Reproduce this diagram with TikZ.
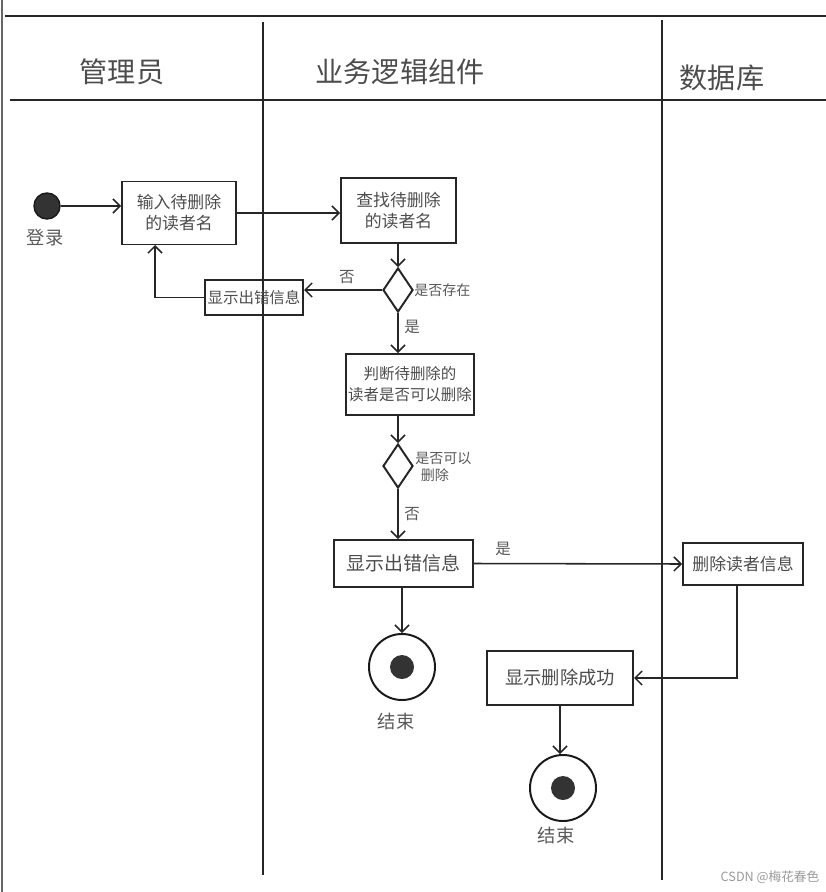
\documentclass[tikz,border=0pt]{standalone}
\usepackage{fontspec}
\setmainfont{Liberation Sans}
\newfontfamily\cjk{Noto Sans CJK SC}
\usetikzlibrary{shapes.geometric,arrows.meta}
\begin{document}
\begin{tikzpicture}[x=0.025cm,y=-0.025cm,
  lane/.style={line width=1.4pt, draw=black!85},
  act/.style={draw=black!85, line width=1.4pt, font=\cjk\fontsize{12}{15}\selectfont, text=black!70, align=center, inner sep=0pt, rectangle},
  dec/.style={diamond, draw=black!85, line width=1.4pt, minimum width=0.75cm, minimum height=1.1cm, inner sep=0pt},
  flow/.style={draw=black!85, line width=1.1pt, -{Straight Barb[length=5pt,width=10pt,line width=1.1pt]}},
  lbl/.style={font=\cjk\fontsize{11}{13}\selectfont, text=black!65, align=left, inner sep=0pt},
  small/.style={font=\cjk\fontsize{10}{12}\selectfont},
  big/.style={font=\cjk\fontsize{13}{15}\selectfont},
  head/.style={font=\cjk\fontsize{20}{24}\selectfont, text=black!70, inner sep=0pt},
  startnode/.style={circle, fill=black!80, draw=black!90, line width=1pt, minimum size=0.65cm, inner sep=0pt},
  endnode/.style={circle, draw=black!90, line width=1.4pt, minimum size=1.65cm, inner sep=0pt,
    path picture={\fill[black!80] (path picture bounding box.center) circle (0.3cm);}}
]
\useasboundingbox (0,0) rectangle (826,892);
% frame and lanes
\draw[draw=black!60, line width=0.8pt] (2,0) -- (2,892);
\draw[lane] (5,16) -- (826,16);
\draw[lane] (10,100) -- (826,100);
\draw[lane] (263,22) -- (263,875);
\draw[lane] (662,20) -- (662,880);
% headers
\node[head] (h1) at (122,72) {管理员};
\node[head] (h2) at (400,72) {业务逻辑组件};
\node[head] (h3) at (722,78) {数据库};
% nodes
\node[startnode] (start) at (47,206) {};
\node[lbl, big] (startl) at (45,238) {登录};
\node[act, minimum width=2.85cm, minimum height=1.575cm] (b1) at (179,213) {输入待删除\\的读者名};
\node[act, minimum width=2.875cm, minimum height=1.625cm] (b2) at (398.5,210.5) {查找待删除\\的读者名};
\node[dec] (d1) at (398,290) {};
\node[act, minimum width=2.45cm, minimum height=0.875cm, font=\cjk\fontsize{11}{13}\selectfont] (b3) at (254,297.5) {显示出错信息};
\node[act, minimum width=3.2cm, minimum height=1.525cm, font=\cjk\fontsize{11}{15}\selectfont] (b4) at (410,384.5) {判断待删除的\\读者是否可以删除};
\node[dec] (d2) at (398,466) {};
\node[act, minimum width=3.475cm, minimum height=1.175cm, font=\cjk\fontsize{13.5}{16}\selectfont] (b5) at (403.5,563.5) {显示出错信息};
\node[act, minimum width=3.0cm, minimum height=1.05cm] (b6) at (743,564) {删除读者信息};
\node[act, minimum width=3.65cm, minimum height=1.35cm, font=\cjk\fontsize{13}{15}\selectfont] (b7) at (560,678) {显示删除成功};
\node[endnode] (e1) at (402,667) {};
\node[endnode] (e2) at (563,788) {};
\node[lbl, big] (e1l) at (396,722) {结束};
\node[lbl, big] (e2l) at (556,836) {结束};
\coordinate (b1in) at (155,245);
\coordinate (b6out) at (737,585);
% edges
\draw[flow] (start) -- (start -| b1.west);
\draw[flow] (b1.east) -- (b1.east -| b2.west);
\draw[flow] (b2.south -| d1.north) -- (d1.north);
\draw[flow] (d1.west) -- (d1.west -| b3.east) node[lbl, pos=0.45, above=4pt] (n1) {否};
\node[lbl, small, anchor=west] (c1) at (414,290) {是否存在};
\draw[flow] (b3.west) -| (b1in);
\draw[flow] (d1.south) -- (d1.south |- b4.north) node[lbl, pos=0.35, right=4pt] (y1) {是};
\draw[flow] (b4.south -| d2.north) -- (d2.north);
\node[lbl, small, anchor=west] (c2) at (415,467) {是否可以\\\ \,删除};
\draw[flow] (d2.south) -- (d2.south |- b5.north) node[lbl, pos=0.5, right=4pt] (n2) {否};
\draw[flow] (b5.east) -- (b6.west) node[lbl, pos=0.14, above=5pt] (y2) {是};
\draw[flow] (b6out) |- (b7.east);
\draw[flow] (b5.south -| e1.north) -- (e1.north);
\draw[flow] (b7.south) -- (b7.south |- e2.north);
% watermark
\node[font=\cjk\fontsize{9}{11}\selectfont, text=black!40, inner sep=0pt] (wm) at (770,877) {CSDN @梅花春色};
\end{tikzpicture}
\end{document}
